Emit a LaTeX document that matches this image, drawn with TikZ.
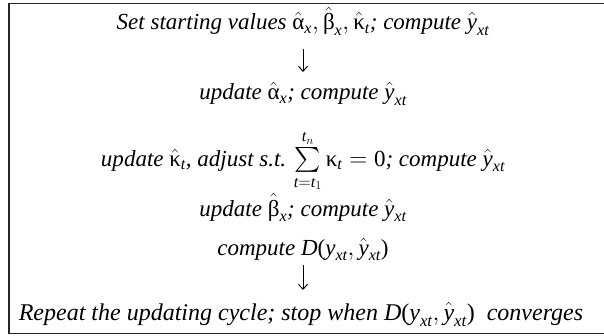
\documentclass[tikz,border=0pt]{standalone}
\usepackage{amsmath}
\usepackage{fontspec}
\setmainfont{Liberation Serif}
\usetikzlibrary{arrows.meta}
\newcommand{\hv}[1]{\hat{\text{\upshape #1}}}
\newcommand{\sbx}[1]{_{\text{\itshape #1}}}
\newcommand{\yh}{\hat{\text{\itshape y}}}
\tikzset{
  txtline/.style={anchor=base, inner sep=0pt, font=\fontsize{23}{28}\selectfont\itshape},
  bigline/.style={txtline, font=\fontsize{24}{29}\selectfont\itshape},
  flowarrow/.style={line width=1pt, -{Straight Barb[length=5pt,width=9pt]}},
  frame/.style={line width=1.2pt, draw=black!85}
}
\begin{document}
\begin{tikzpicture}
\useasboundingbox (0,0) rectangle (604pt,335pt);
\draw[frame] (604pt,331.5pt) -- (9pt,331.5pt) -- (9pt,1.5pt) -- (604pt,1.5pt);
\node[txtline] (l1) at (303pt,305pt) {Set starting values $\hv{α}\sbx{x},\hv{β}\sbx{x},\hv{κ}\sbx{t}$; compute $\yh\sbx{xt}$};
\node[txtline] (l2) at (303pt,235pt) {update $\hv{α}\sbx{x}$; compute $\yh\sbx{xt}$};
\node[txtline] (l3) at (303pt,169pt) {update $\hv{κ}\sbx{t}$, adjust s.t. $\sum\limits_{\text{\itshape t}=\text{\itshape t}_1}^{\text{\itshape t}_n}\text{\upshape κ}\sbx{t}=\text{\upshape 0}$; compute $\yh\sbx{xt}$};
\node[txtline] (l4) at (303pt,119pt) {update $\hv{β}\sbx{x}$; compute $\yh\sbx{xt}$};
\node[txtline] (l5) at (303pt,80pt) {compute\ \textit{D}\textup{(}$\text{\itshape y}\sbx{xt}, \yh\sbx{xt}$\textup{)}};
\node[bigline] (l6) at (301pt,15pt) {Repeat the updating cycle; stop when\ \textit{D}\textup{(}$\text{\itshape y}\sbx{xt}, \yh\sbx{xt}$\textup{)}\ \ converges};
\coordinate (a1s) at (303pt,286pt);
\coordinate (a1e) at (303pt,263pt);
\coordinate (a2s) at (303pt,70pt);
\coordinate (a2e) at (303pt,45pt);
\draw[flowarrow] (a1s) -- (a1e);
\draw[flowarrow] (a2s) -- (a2e);
\end{tikzpicture}
\end{document}
